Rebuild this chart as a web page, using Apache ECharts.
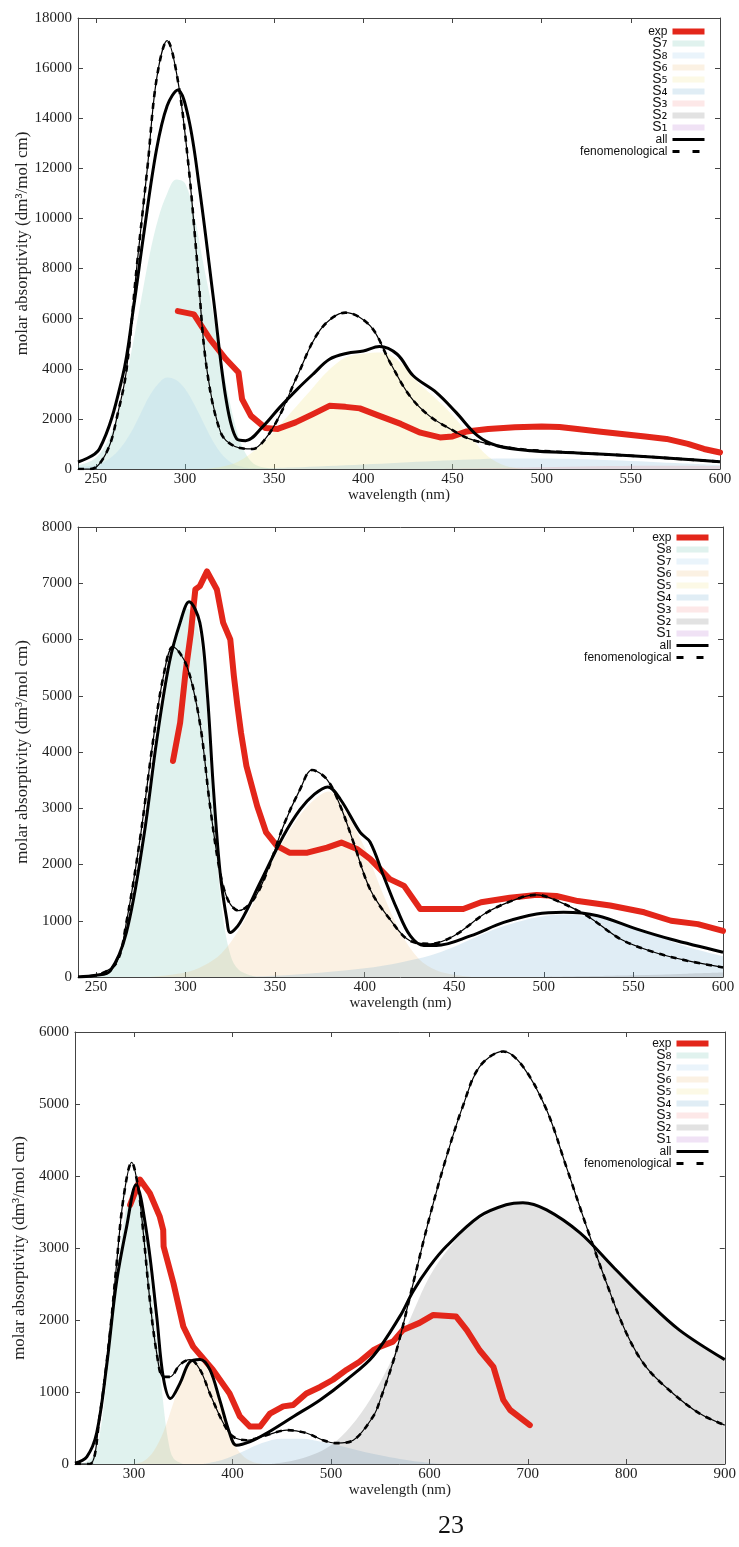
<!DOCTYPE html>
<html>
<head>
<meta charset="utf-8">
<script src="https://cdn.jsdelivr.net/npm/echarts@6/dist/echarts.min.js"></script>
<style>
html, body { margin: 0; padding: 0; background: #fff; }
#chart { width: 739px; height: 1547px; }
</style>
</head>
<body>
<div id="chart"></div>
<script>
// ---------- panel 1 (240-600 nm) ----------
const p1ExpX = [296, 305, 314, 323, 330, 332, 337, 345, 352, 362, 372, 381, 390, 398, 409, 421, 432, 443, 450, 458, 470, 485, 500, 510, 520, 532, 545, 558, 570, 582, 591, 600];
const p1ExpY = [6300, 6170, 5180, 4380, 3850, 2790, 2120, 1640, 1600, 1860, 2200, 2520, 2480, 2420, 2120, 1800, 1450, 1260, 1300, 1500, 1600, 1670, 1700, 1680, 1600, 1500, 1400, 1300, 1200, 1000, 800, 660];
const p1AllX = [240, 252, 265, 271, 277, 284, 290, 296, 302, 308, 316, 323, 329, 334, 344, 353, 363, 372, 381, 391, 400, 409, 419, 428, 441, 452, 464, 475, 494, 520, 550, 578, 600];
const p1AllY = [280, 800, 3700, 6370, 9440, 12740, 14500, 15130, 14000, 11270, 6770, 2790, 1200, 1130, 1720, 2450, 3190, 3800, 4380, 4620, 4710, 4890, 4580, 3720, 3050, 2260, 1330, 930, 730, 640, 530, 400, 290];
const p1FenoX = [240, 247, 252, 258, 262, 267, 273, 279, 284, 290, 296, 302, 307, 312, 320, 328, 338, 345, 353, 363, 376, 390, 404, 415, 426, 437, 449, 460, 475, 490, 520, 550, 578, 600];
const p1FenoY = [0, 0, 200, 1000, 2120, 3850, 8100, 12080, 15530, 17100, 15500, 12080, 8100, 4110, 1460, 900, 800, 1200, 2120, 3720, 5570, 6240, 5700, 4250, 2920, 2120, 1590, 1190, 930, 780, 640, 530, 400, 290];
const p1S7X = [240, 245, 250, 255, 260, 265, 270, 275, 280, 285, 290, 295, 300, 305, 310, 315, 320, 325, 330, 335, 340, 350];
const p1S7Y = [150, 250, 450, 900, 1700, 2900, 4700, 6600, 8500, 10000, 11000, 11550, 11400, 10200, 8300, 6500, 4500, 2700, 1300, 500, 150, 0];
const p1S8X = [240, 250, 255, 260, 265, 270, 275, 280, 285, 290, 295, 300, 305, 310, 315, 320, 325, 330, 340];
const p1S8Y = [80, 150, 300, 550, 950, 1500, 2200, 2900, 3400, 3650, 3550, 3200, 2600, 1900, 1200, 650, 300, 120, 0];
const p1S5X = [310, 320, 330, 340, 350, 360, 370, 380, 390, 400, 410, 420, 430, 440, 450, 460, 470, 480, 490];
const p1S5Y = [0, 80, 300, 800, 1500, 2300, 3100, 3900, 4450, 4600, 4650, 4300, 3500, 2850, 2150, 1300, 500, 120, 0];
const p1S4X = [330, 360, 380, 400, 420, 440, 460, 480, 500, 520, 540, 560, 580, 600];
const p1S4Y = [0, 60, 120, 180, 250, 320, 380, 420, 420, 400, 350, 290, 220, 160];
const p1S3X = [440, 470, 500, 530, 560, 580, 600];
const p1S3Y = [0, 30, 70, 110, 130, 130, 120];

// ---------- panel 2 (240-600 nm) ----------
const p2ExpX = [293, 297, 300, 303, 304.5, 305.5, 308, 312, 317.5, 321, 325, 327, 329, 331, 334, 340, 345, 351, 358, 368, 379, 387, 396, 403, 414, 422, 431, 440, 455, 465, 481, 496, 507, 519, 537, 556, 571, 586, 600];
const p2ExpY = [3840, 4520, 5410, 6120, 6590, 6890, 6950, 7210, 6890, 6300, 6000, 5350, 4820, 4340, 3750, 3040, 2570, 2330, 2210, 2210, 2300, 2390, 2270, 2100, 1740, 1620, 1210, 1210, 1210, 1330, 1410, 1460, 1440, 1350, 1270, 1150, 1000, 940, 820];
const p2AllX = [240, 250, 258, 267, 276.5, 284, 291, 297, 302, 308, 312, 315.6, 319.3, 323, 325, 330.5, 341.7, 354.7, 364, 372, 379.3, 386.4, 397.5, 403, 410.5, 418, 425.5, 433, 440, 459, 477.6, 496, 511, 530, 552, 571, 600];
const p2AllY = [0, 30, 110, 790, 2450, 4220, 5590, 6300, 6670, 6300, 5110, 3340, 1860, 1030, 790, 970, 1680, 2510, 2980, 3250, 3380, 3160, 2570, 2400, 1800, 1210, 730, 560, 560, 730, 970, 1120, 1150, 1090, 850, 670, 440];
const p2FenoX = [240, 252, 261.6, 267, 274.6, 282, 287.7, 293, 300.7, 308, 313.7, 319.3, 324, 329.6, 338, 345.4, 354.7, 364, 370.6, 379, 386.4, 393.8, 403, 414, 425.5, 436.6, 449.7, 468.3, 487, 496, 505.5, 524, 543, 561.6, 580, 600];
const p2FenoY = [0, 50, 260, 970, 2450, 4220, 5350, 5870, 5530, 4520, 3040, 1860, 1350, 1180, 1380, 1860, 2690, 3340, 3680, 3510, 3040, 2390, 1560, 1030, 640, 590, 730, 1150, 1410, 1460, 1380, 1090, 670, 440, 290, 170];
const p2S8X = [240, 250, 255, 260, 265, 270, 275, 280, 285, 290, 295, 300, 305, 310, 315, 320, 325, 330, 340];
const p2S8Y = [0, 30, 80, 200, 500, 1100, 2100, 3300, 4500, 5500, 6200, 6550, 6450, 5500, 3200, 1300, 400, 120, 0];
const p2S6X = [280, 300, 310, 320, 330, 340, 350, 360, 370, 380, 390, 400, 410, 420, 430, 440, 450, 460];
const p2S6Y = [0, 80, 200, 420, 850, 1450, 2150, 2700, 3100, 3300, 2900, 2300, 1500, 800, 330, 120, 40, 0];
const p2S4X = [330, 360, 390, 410, 430, 440, 450, 460, 470, 480, 490, 500, 510, 520, 530, 540, 550, 560, 570, 580, 590, 600];
const p2S4Y = [0, 40, 120, 200, 330, 420, 540, 680, 820, 930, 1020, 1080, 1110, 1100, 1060, 980, 880, 780, 650, 540, 450, 370];
const p2S2X = [500, 550, 580, 600];
const p2S2Y = [0, 30, 60, 80];

// ---------- panel 3 (240-900 nm) ----------
const p3ExpX = [296, 306, 316, 326, 329.6, 330, 340, 350, 360, 380, 397, 407.5, 417.7, 428, 438, 451.5, 461.6, 475, 489, 502, 516, 529, 543, 550, 563, 573, 590, 604, 627, 638, 651, 665, 675, 682, 702];
const p3ExpY = [3600, 3950, 3760, 3440, 3250, 3020, 2510, 1910, 1630, 1310, 980, 660, 520, 520, 700, 800, 820, 980, 1070, 1170, 1310, 1420, 1580, 1630, 1700, 1860, 1960, 2070, 2050, 1860, 1580, 1350, 890, 750, 540];
const p3AllX = [240, 252, 262, 272, 282, 292.5, 302, 312.8, 323, 329.6, 337, 346.6, 356.8, 367, 377, 387, 397, 404, 418, 435, 462, 489, 516, 543, 570, 583.5, 600, 617, 651, 678, 695, 719, 753, 786.5, 820, 854, 900];
const p3AllY = [10, 100, 430, 1350, 2510, 3300, 3880, 3210, 2050, 1210, 910, 1120, 1420, 1450, 1310, 890, 430, 260, 310, 430, 660, 890, 1170, 1500, 2050, 2400, 2740, 3020, 3440, 3600, 3630, 3530, 3210, 2740, 2280, 1860, 1450];
const p3FenoX = [240, 255, 265, 275.5, 282, 289, 297.6, 304, 309.4, 316, 323, 329.6, 336.4, 346.6, 356.8, 367, 377, 390.6, 400.7, 414, 434.6, 455, 475, 492, 505.7, 522.6, 542.8, 550, 566.6, 583.5, 600.4, 617.4, 634, 651, 675, 695, 719, 739, 759.5, 780, 800, 820, 847.5, 874.6, 900];
const p3FenoY = [0, 0, 660, 1820, 2740, 3670, 4190, 3850, 3210, 2280, 1540, 1210, 1210, 1380, 1450, 1310, 980, 570, 380, 330, 400, 470, 430, 330, 290, 330, 660, 890, 1580, 2510, 3440, 4270, 4970, 5520, 5730, 5520, 4920, 4130, 3300, 2510, 1820, 1350, 980, 700, 540];
const p3S8X = [240, 250, 260, 265, 270, 275, 280, 285, 290, 295, 300, 305, 310, 315, 320, 325, 330, 335, 340, 350];
const p3S8Y = [0, 20, 150, 400, 900, 1600, 2300, 2900, 3400, 3700, 3820, 3750, 3400, 2800, 2100, 1500, 800, 300, 80, 0];
const p3S6X = [300, 310, 320, 330, 340, 350, 360, 370, 380, 390, 400, 410, 420, 430];
const p3S6Y = [0, 40, 180, 450, 850, 1250, 1420, 1400, 1150, 820, 330, 120, 30, 0];
const p3S4X = [370, 390, 410, 430, 450, 470, 490, 510, 530, 550, 570, 590, 610];
const p3S4Y = [0, 60, 170, 290, 350, 350, 310, 250, 180, 120, 70, 30, 0];
const p3S2X = [440, 460, 480, 500, 520, 540, 560, 580, 600, 620, 640, 660, 680, 700, 720, 740, 760, 780, 800, 820, 840, 860, 880, 900];
const p3S2Y = [0, 40, 120, 260, 520, 900, 1400, 2000, 2600, 3000, 3300, 3480, 3590, 3620, 3550, 3350, 3120, 2840, 2550, 2260, 2020, 1800, 1620, 1430];

// tick labels
const ticks1 = [250, 300, 350, 400, 450, 500, 550, 600];
const ticks3 = [300, 400, 500, 600, 700, 800, 900];

// legend order (colour slot follows the position in the key)
const order1 = ['exp', 'S7', 'S8', 'S6', 'S5', 'S4', 'S3', 'S2', 'S1', 'all', 'fenomenological'];
const order23 = ['exp', 'S8', 'S7', 'S6', 'S5', 'S4', 'S3', 'S2', 'S1', 'all', 'fenomenological'];
const slotFill = ['rgba(100,190,170,0.2)', 'rgba(150,200,235,0.2)', 'rgba(235,185,115,0.2)', 'rgba(240,228,130,0.25)',
                  'rgba(100,165,205,0.2)', 'rgba(240,100,100,0.15)', 'rgba(110,110,110,0.2)', 'rgba(180,110,205,0.2)'];
const slotSwatch = ['#e0f2ee', '#eaf4fb', '#fbf1e3', '#fcf9e6', '#e0edf5', '#fde8e8', '#e2e2e2', '#f0e2f5'];
const subDigits = { '1': '₁', '2': '₂', '3': '₃', '4': '₄', '5': '₅', '6': '₆', '7': '₇', '8': '₈' };

const panels = [
    { grid: { left: 78, top: 18, width: 642, height: 451 }, xMin: 240, xMax: 600, ticks: ticks1, yMax: 18000, yStep: 2000,
      order: order1, legend: { right: 33, top: 24 },
      exp: [p1ExpX, p1ExpY], all: [p1AllX, p1AllY], feno: [p1FenoX, p1FenoY],
      bands: { S7: [p1S7X, p1S7Y], S8: [p1S8X, p1S8Y], S5: [p1S5X, p1S5Y], S4: [p1S4X, p1S4Y], S3: [p1S3X, p1S3Y] } },
    { grid: { left: 78, top: 527, width: 645, height: 450 }, xMin: 240, xMax: 600, ticks: ticks1, yMax: 8000, yStep: 1000,
      order: order23, legend: { right: 29, top: 530 },
      exp: [p2ExpX, p2ExpY], all: [p2AllX, p2AllY], feno: [p2FenoX, p2FenoY],
      bands: { S8: [p2S8X, p2S8Y], S6: [p2S6X, p2S6Y], S4: [p2S4X, p2S4Y], S2: [p2S2X, p2S2Y] } },
    { grid: { left: 75, top: 1032, width: 650, height: 432 }, xMin: 240, xMax: 900, ticks: ticks3, yMax: 6000, yStep: 1000,
      order: order23, legend: { right: 29, top: 1036 },
      exp: [p3ExpX, p3ExpY], all: [p3AllX, p3AllY], feno: [p3FenoX, p3FenoY],
      bands: { S8: [p3S8X, p3S8Y], S6: [p3S6X, p3S6Y], S4: [p3S4X, p3S4Y], S2: [p3S2X, p3S2Y] } }
];

function pairs(xs, ys) {
    return xs.map((x, i) => [x, ys[i]]);
}

const serif = '"Liberation Serif", "DejaVu Serif", serif';
const sans = '"Liberation Sans", Arial, sans-serif';
const axisColor = '#444';
const grids = [], xAxes = [], yAxes = [], legends = [], series = [];

panels.forEach((p, i) => {
    const key = 'p' + (i + 1) + '|';
    grids.push(p.grid);

    const tickStyle = { inside: true, length: 5, lineStyle: { color: axisColor } };
    const lineStyle = { show: true, onZero: false, lineStyle: { color: axisColor, width: 1 } };
    xAxes.push({
        type: 'value', gridIndex: i, position: 'bottom', min: p.xMin, max: p.xMax,
        axisLine: lineStyle, splitLine: { show: false },
        axisTick: Object.assign({ customValues: p.ticks }, tickStyle),
        axisLabel: { customValues: p.ticks, fontFamily: serif, fontSize: 15, color: '#222', margin: 3 },
        name: 'wavelength (nm)', nameLocation: 'middle', nameGap: 16,
        nameTextStyle: { fontFamily: serif, fontSize: 15, color: '#222' }
    });
    xAxes.push({
        type: 'value', gridIndex: i, position: 'top', min: p.xMin, max: p.xMax,
        axisLine: lineStyle, splitLine: { show: false },
        axisTick: Object.assign({ customValues: p.ticks }, tickStyle),
        axisLabel: { show: false }
    });
    yAxes.push({
        type: 'value', gridIndex: i, position: 'left', min: 0, max: p.yMax, interval: p.yStep,
        axisLine: lineStyle, splitLine: { show: false }, axisTick: tickStyle,
        axisLabel: { fontFamily: serif, fontSize: 15, color: '#222', margin: 6, formatter: v => String(v) },
        name: 'molar absorptivity (dm³/mol cm)', nameLocation: 'middle', nameGap: 47, nameMoveOverlap: false,
        nameTextStyle: { fontFamily: serif, fontSize: 17, color: '#222' }
    });
    yAxes.push({
        type: 'value', gridIndex: i, position: 'right', min: 0, max: p.yMax, interval: p.yStep,
        axisLine: lineStyle, splitLine: { show: false }, axisTick: tickStyle,
        axisLabel: { show: false }
    });

    const legendData = [];
    p.order.forEach((n, k) => {
        if (n === 'exp') {
            legendData.push({ name: key + n, icon: 'rect', itemStyle: { color: '#e3261a' } });
        } else if (n === 'all') {
            legendData.push({ name: key + n, itemStyle: { opacity: 0 }, lineStyle: { width: 3, color: '#000' } });
        } else if (n === 'fenomenological') {
            legendData.push({ name: key + n, itemStyle: { opacity: 0 }, lineStyle: { type: [7, 13], width: 3, color: '#000' } });
        } else {
            const slot = k - 1;
            legendData.push({ name: key + n, icon: 'rect', itemStyle: { color: slotSwatch[slot] } });
            const band = p.bands[n];
            series.push({
                type: 'line', name: key + n, xAxisIndex: 2 * i, yAxisIndex: 2 * i,
                data: band ? pairs(band[0], band[1]) : [],
                smooth: 0.35, symbol: 'none', silent: true, z: 1,
                itemStyle: { color: slotSwatch[slot] },
                lineStyle: { width: 0 },
                areaStyle: { color: slotFill[slot], opacity: 1 }
            });
        }
    });

    series.push({
        type: 'line', name: key + 'exp', xAxisIndex: 2 * i, yAxisIndex: 2 * i,
        data: pairs(p.exp[0], p.exp[1]), symbol: 'none', silent: true, z: 3,
        itemStyle: { color: '#e3261a' },
        lineStyle: { color: '#e3261a', width: 6, join: 'round', cap: 'round' }
    });
    series.push({
        type: 'line', name: key + 'all', xAxisIndex: 2 * i, yAxisIndex: 2 * i,
        data: pairs(p.all[0], p.all[1]), smooth: 0.35, symbol: 'none', silent: true, z: 4,
        itemStyle: { color: '#000' }, lineStyle: { color: '#000', width: 3 }
    });
    series.push({
        type: 'line', name: key + 'fenomenological', xAxisIndex: 2 * i, yAxisIndex: 2 * i,
        data: pairs(p.feno[0], p.feno[1]), smooth: 0.35, symbol: 'none', silent: true, z: 5,
        itemStyle: { color: '#000' }, lineStyle: { color: '#000', width: 2.6, type: [6, 6] }
    });
    // thin centre line under the dashes
    series.push({
        type: 'line', name: key + 'feno-thin', xAxisIndex: 2 * i, yAxisIndex: 2 * i,
        data: pairs(p.feno[0], p.feno[1]), smooth: 0.35, symbol: 'none', silent: true, z: 5,
        itemStyle: { color: '#000' }, lineStyle: { color: '#000', width: 1.2 }
    });

    // every row is 15px tall, the negative gap packs them to ~12px like the key in the figure
    legends.push({
        orient: 'vertical', align: 'right', right: p.legend.right, top: p.legend.top,
        padding: 0, itemGap: -3, itemWidth: 32, itemHeight: 6, selectedMode: false,
        data: legendData,
        formatter: name => {
            const t = name.split('|')[1];
            return /^S\d$/.test(t) ? '{s|S}{n|' + subDigits[t[1]] + '}' : t;
        },
        textStyle: {
            fontFamily: sans, fontSize: 12, lineHeight: 15, color: '#111',
            rich: {
                s: { fontFamily: sans, fontSize: 14, lineHeight: 15, color: '#111' },
                n: { fontFamily: '"DejaVu Sans", sans-serif', fontSize: 15, lineHeight: 15, color: '#111' }
            }
        }
    });
});

const chart = echarts.init(document.getElementById('chart'));
chart.setOption({
    animation: false,
    backgroundColor: '#fff',
    grid: grids,
    xAxis: xAxes,
    yAxis: yAxes,
    legend: legends,
    series: series,
    graphic: [{
        type: 'text', left: 438, top: 1513,
        style: { text: '23', font: '26px "Liberation Serif", serif', fill: '#111' }
    }]
});
</script>
</body>
</html>
